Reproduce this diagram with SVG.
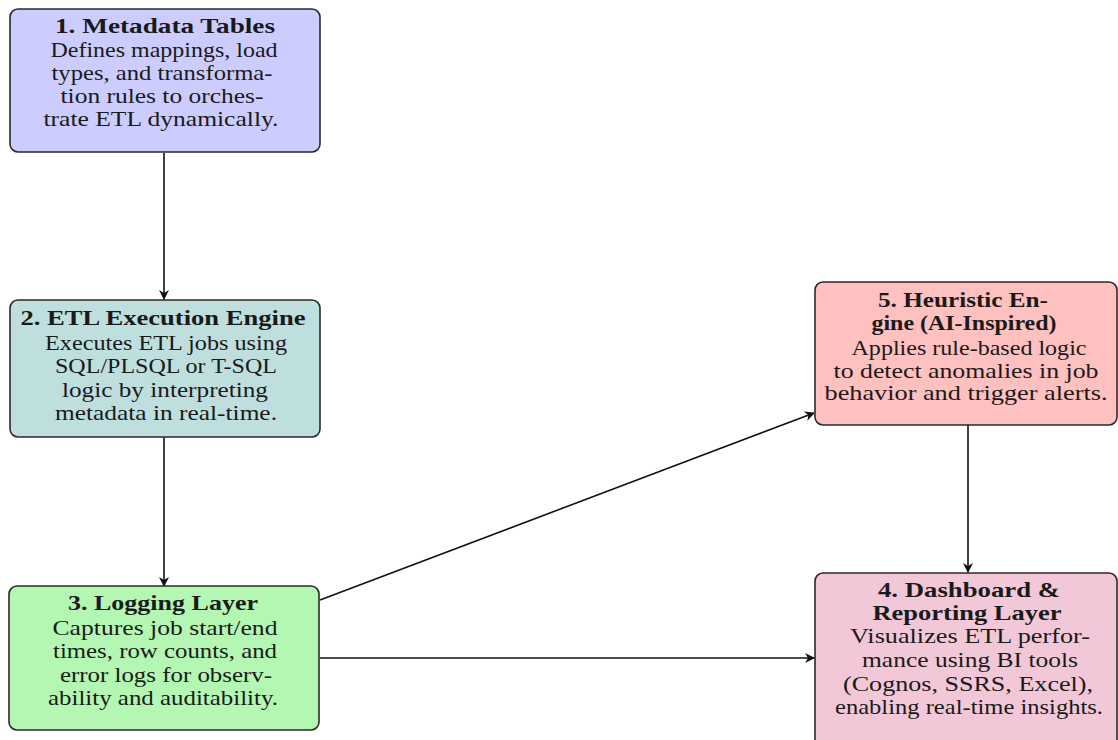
<svg xmlns="http://www.w3.org/2000/svg" width="1118" height="740" viewBox="0 0 1118 740">
<defs>
<marker id="ah" viewBox="0 0 10 10" refX="9" refY="5" markerWidth="10" markerHeight="10" markerUnits="userSpaceOnUse" orient="auto">
<path d="M0,0 L10,5 L0,10 L3,5 Z" fill="#111"/>
</marker>
<style>
.box{stroke:#2a2a2a;stroke-width:1.6}
text{font-family:"Liberation Serif","DejaVu Serif",serif;font-size:21px;fill:#1a1a1a;text-anchor:middle}
.t{font-weight:bold}
.edge{stroke:#111;stroke-width:1.6;fill:none;marker-end:url(#ah)}
</style>
</defs>
<rect width="1118" height="740" fill="#fff"/>
<g id="connectors">
<line class="edge" x1="164" y1="153" x2="164" y2="299"/>
<line class="edge" x1="164" y1="437" x2="164" y2="586"/>
<line class="edge" x1="320" y1="600" x2="814" y2="413"/>
<line class="edge" x1="320" y1="658" x2="814" y2="658"/>
<line class="edge" x1="968" y1="425" x2="968" y2="572"/>
</g>
<g id="node1">
<rect class="box" x="10" y="9" width="310" height="143" rx="8" fill="#ccccff"/>
<text class="t" x="165" y="33" textLength="220" lengthAdjust="spacingAndGlyphs">1. Metadata Tables</text>
<text x="164" y="57" textLength="227" lengthAdjust="spacingAndGlyphs">Defines mappings, load</text>
<text x="162" y="80" textLength="221" lengthAdjust="spacingAndGlyphs">types, and transforma-</text>
<text x="162" y="103" textLength="203" lengthAdjust="spacingAndGlyphs">tion rules to orches-</text>
<text x="161" y="126" textLength="235" lengthAdjust="spacingAndGlyphs">trate ETL dynamically.</text>
</g>
<g id="node2">
<rect class="box" x="10" y="300" width="310" height="137" rx="8" fill="#bfdfdf"/>
<text class="t" x="163" y="325" textLength="285" lengthAdjust="spacingAndGlyphs">2. ETL Execution Engine</text>
<text x="166" y="350" textLength="242" lengthAdjust="spacingAndGlyphs">Executes ETL jobs using</text>
<text x="166" y="373" textLength="222" lengthAdjust="spacingAndGlyphs">SQL/PLSQL or T-SQL</text>
<text x="165" y="397" textLength="206" lengthAdjust="spacingAndGlyphs">logic by interpreting</text>
<text x="166" y="420" textLength="222" lengthAdjust="spacingAndGlyphs">metadata in real-time.</text>
</g>
<g id="node3">
<rect class="box" x="9" y="586" width="310" height="144" rx="8" fill="#b3f7b3"/>
<text class="t" x="163" y="610" textLength="190" lengthAdjust="spacingAndGlyphs">3. Logging Layer</text>
<text x="165" y="635" textLength="225" lengthAdjust="spacingAndGlyphs">Captures job start/end</text>
<text x="165" y="658" textLength="224" lengthAdjust="spacingAndGlyphs">times, row counts, and</text>
<text x="166" y="682" textLength="212" lengthAdjust="spacingAndGlyphs">error logs for observ-</text>
<text x="163" y="705" textLength="230" lengthAdjust="spacingAndGlyphs">ability and auditability.</text>
</g>
<g id="node5">
<rect class="box" x="815" y="282" width="302" height="143" rx="8" fill="#ffc0c0"/>
<text class="t" x="963" y="307" textLength="170" lengthAdjust="spacingAndGlyphs">5. Heuristic En-</text>
<text class="t" x="964" y="330" textLength="185" lengthAdjust="spacingAndGlyphs">gine (AI-Inspired)</text>
<text x="969" y="355" textLength="235" lengthAdjust="spacingAndGlyphs">Applies rule-based logic</text>
<text x="966" y="378" textLength="265" lengthAdjust="spacingAndGlyphs">to detect anomalies in job</text>
<text x="966" y="400" textLength="283" lengthAdjust="spacingAndGlyphs">behavior and trigger alerts.</text>
</g>
<g id="node4">
<rect class="box" x="815" y="573" width="302" height="180" rx="8" fill="#f2c8d8"/>
<text class="t" x="969" y="597" textLength="182" lengthAdjust="spacingAndGlyphs">4. Dashboard &amp;</text>
<text class="t" x="967" y="620" textLength="189" lengthAdjust="spacingAndGlyphs">Reporting Layer</text>
<text x="970" y="643" textLength="240" lengthAdjust="spacingAndGlyphs">Visualizes ETL perfor-</text>
<text x="970" y="667" textLength="216" lengthAdjust="spacingAndGlyphs">mance using BI tools</text>
<text x="968" y="691" textLength="250" lengthAdjust="spacingAndGlyphs">(Cognos, SSRS, Excel),</text>
<text x="969" y="714" textLength="268" lengthAdjust="spacingAndGlyphs">enabling real-time insights.</text>
</g>
</svg>
